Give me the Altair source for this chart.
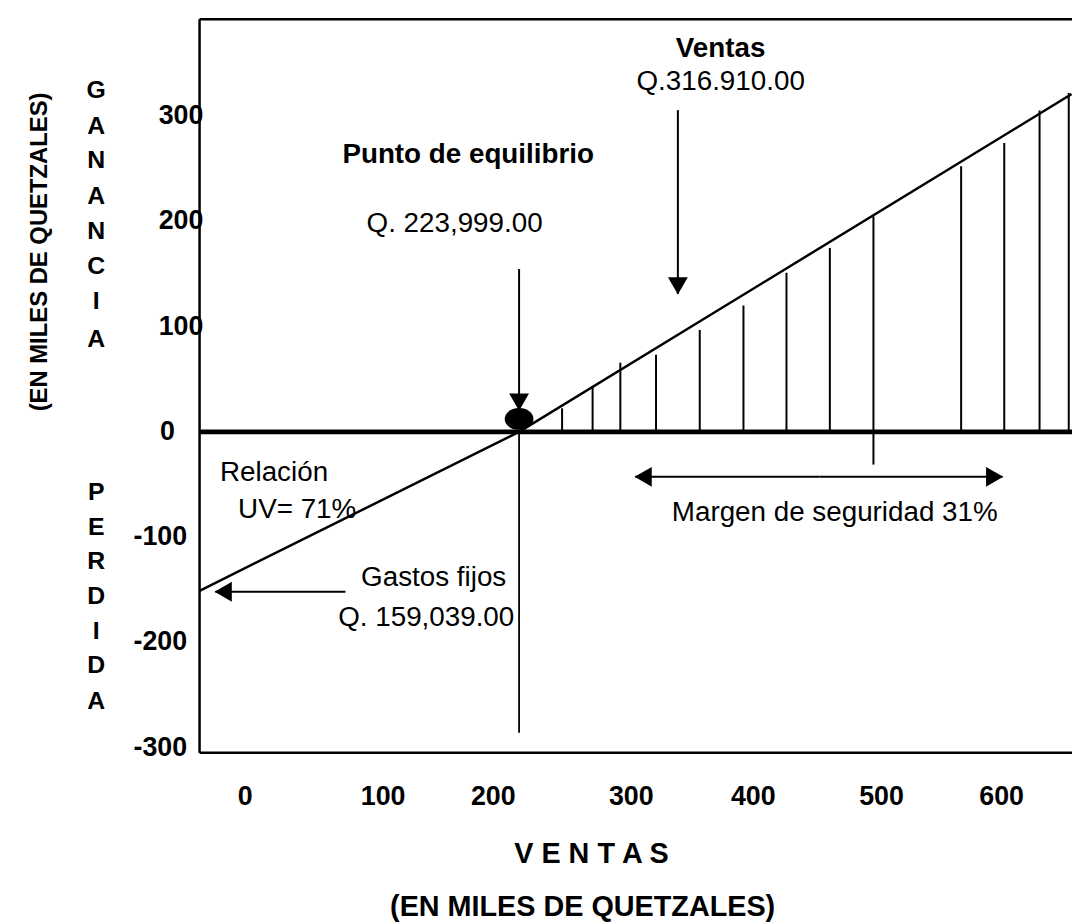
import altair as alt
import pandas as pd

# ---- scales (data units: thousands of quetzales) ----
XMIN, XMAX = -66.0, 660.3
YMIN, YMAX = -305.0, 392.0

# ---- data ----
# sales / profit line (ventas, ganancia)
line_x = [-66, 200, 660]
line_y = [-151, 0, 321]

# hatch lines (x, top, bottom)
hatch_x = [235.8, 261.2, 284.3, 314.0, 350.4, 386.8, 422.6, 458.7, 495.0, 568.0, 603.9, 633.3, 657.6]
hatch_top = [22.4, 43.7, 65.8, 73.3, 96.9, 120.1, 151.2, 174.8, 204.7, 252.5, 274.5, 305.4, 322.0]
hatch_bot = [0, 0, 0, 0, 0, 0, 0, 0, -31.1, 0, 0, 0, 0]

# break-even
be_x = 200
be_bottom = -285.8

# y tick labels
ytick_vals = [300, 200, 100, 0, -100, -200, -300]
ytick_text = ["300", "200", "100", "0", "-100", "-200", "-300"]
ytick_x = [-100, -100, -100, -99, -121, -121, -121]

# x tick labels
xtick_text = ["0", "100", "200", "300", "400", "500", "600"]
xtick_x = [-28.1, 86.8, 178.5, 293.4, 395.0, 501.7, 601.7]
xtick_y = -347

# vertical letters
gan_letters = list("GANANCIA")
gan_y = [325, 291, 258, 224, 191, 158, 124, 88]
per_letters = list("PERDIDA")
per_y = [-57, -90, -123, -156, -189, -222, -256]
letters_x = -152

# annotations: text, x, y, weight, align
ann_text = ["Ventas", "Q.316.910.00", "Punto de equilibrio", "Q. 223,999.00",
            "Relación", "UV= 71%", "Gastos fijos", "Q. 159,039.00",
            "Margen de seguridad 31%"]
ann_x = [367.8, 367.8, 52.9, 146.3, -49.0, -33.9, 189.3, 196.0, 462.8]
ann_y = [363.5, 332.0, 263.0, 197.0, -39.0, -74.0, -139.0, -176.5, -77.4]
ann_weight = ["bold", "normal", "bold", "normal", "normal", "normal", "normal", "normal", "normal"]
ann_align = ["center", "center", "left", "center", "left", "left", "right", "right", "center"]

# arrows: x1, y1, x2, y2 (arrowhead at x2,y2)
arr_x1 = [332.2, 200.0, 55.4, 450.0, 450.0]
arr_y1 = [305.7, 154.7, -151.9, -42.7, -42.7]
arr_x2 = [332.2, 200.0, -52.9, 296.7, 602.5]
arr_y2 = [131.1, 20.8, -151.9, -42.7, -42.7]
arr_shape = ["triangle-down", "triangle-down", "triangle-left", "triangle-left", "triangle-right"]
arr_dx = [0, 0, 8, 8, -8]
arr_dy = [-8, -8, 0, 0, 0]

FONT = "Liberation Sans, Arial, sans-serif"

xs = alt.Scale(domain=[XMIN, XMAX], nice=False, zero=False)
ys = alt.Scale(domain=[YMIN, YMAX], nice=False, zero=False)
X = lambda f: alt.X(f, type="quantitative", scale=xs, axis=None)
Y = lambda f: alt.Y(f, type="quantitative", scale=ys, axis=None)

# frame (left, top, bottom)
frame = alt.Chart(pd.DataFrame({"k": [0]})).mark_rule(color="black", strokeWidth=2.5)
frame_left = frame.encode(x=alt.value(0), y=alt.value(0), y2=alt.value(739))
frame_top = frame.encode(x=alt.value(0), x2=alt.value(900), y=alt.value(0))
frame_bot = frame.encode(x=alt.value(0), x2=alt.value(900), y=alt.value(739))

zero_df = pd.DataFrame({"x": [XMIN], "x2": [XMAX + 10], "y": [0]})
zero_line = alt.Chart(zero_df).mark_rule(color="black", strokeWidth=5).encode(
    x=X("x"), x2="x2", y=Y("y"))

line_df = pd.DataFrame({"x": line_x, "y": line_y})
sales = alt.Chart(line_df).mark_line(color="black", strokeWidth=2.5, clip=False).encode(
    x=X("x"), y=Y("y"), order="x:Q")

hatch_df = pd.DataFrame({"x": hatch_x, "top": hatch_top, "bot": hatch_bot})
hatch = alt.Chart(hatch_df).mark_rule(color="black", strokeWidth=2).encode(
    x=X("x"), y=Y("bot"), y2="top")

be_df = pd.DataFrame({"x": [be_x], "y": [0], "y2": [be_bottom]})
be_line = alt.Chart(be_df).mark_rule(color="black", strokeWidth=1.8).encode(
    x=X("x"), y=Y("y"), y2="y2")

dot_df = pd.DataFrame({"x": [be_x], "y": [12.3]})
dot = alt.Chart(dot_df).mark_point(
    shape="M-1,0 A1,0.76 0 1,0 1,0 A1,0.76 0 1,0 -1,0 Z",
    filled=True, color="black", opacity=1, size=841).encode(x=X("x"), y=Y("y"))

arr_df = pd.DataFrame({"x1": arr_x1, "y1": arr_y1, "x2": arr_x2, "y2": arr_y2,
                       "shape": arr_shape, "dx": arr_dx, "dy": arr_dy})
arr_lines = alt.Chart(arr_df).mark_rule(color="black", strokeWidth=2).encode(
    x=X("x1"), y=Y("y1"), x2="x2", y2="y2")
heads = []
for i in range(len(arr_shape)):
    sub = arr_df.iloc[[i]]
    heads.append(alt.Chart(sub).mark_point(shape=arr_shape[i], filled=True, color="black",
                                            opacity=1, size=400).encode(
        x=X("x2"), y=Y("y2"), xOffset=alt.value(arr_dx[i]), yOffset=alt.value(arr_dy[i])))

ann_df = pd.DataFrame({"t": ann_text, "x": ann_x, "y": ann_y, "w": ann_weight, "a": ann_align})
ann_layers = []
for i in range(len(ann_text)):
    sub = ann_df.iloc[[i]]
    ann_layers.append(alt.Chart(sub).mark_text(
        font=FONT, fontSize=28, fontWeight=ann_weight[i], align=ann_align[i],
        baseline="middle", color="black").encode(x=X("x"), y=Y("y"), text="t:N"))

ytick_df = pd.DataFrame({"t": ytick_text, "x": ytick_x, "y": ytick_vals})
yticks = alt.Chart(ytick_df).mark_text(font=FONT, fontSize=27, fontWeight="bold",
                                       align="left", baseline="middle", color="black").encode(
    x=X("x"), y=Y("y"), text="t:N")

xtick_df = pd.DataFrame({"t": xtick_text, "x": xtick_x, "y": [xtick_y] * len(xtick_text)})
xticks = alt.Chart(xtick_df).mark_text(font=FONT, fontSize=27, fontWeight="bold",
                                       align="center", baseline="middle", color="black").encode(
    x=X("x"), y=Y("y"), text="t:N")

let_df = pd.DataFrame({"t": gan_letters + per_letters,
                       "y": gan_y + per_y,
                       "x": [letters_x] * (len(gan_letters) + len(per_letters))})
letters = alt.Chart(let_df).mark_text(font=FONT, fontSize=25, fontWeight="bold",
                                      align="center", baseline="middle", color="black").encode(
    x=X("x"), y=Y("y"), text="t:N")

tit_df = pd.DataFrame({"t": ["V E N T A S", "(EN MILES DE QUETZALES)"],
                       "x": [260.3, 252.9], "y": [-401, -452]})
xtitle = alt.Chart(tit_df).mark_text(font=FONT, fontSize=29, fontWeight="bold",
                                     align="center", baseline="middle", color="black").encode(
    x=X("x"), y=Y("y"), text="t:N")

ytit_df = pd.DataFrame({"t": ["(EN MILES DE QUETZALES)"], "x": [-199], "y": [171]})
ytitle = alt.Chart(ytit_df).mark_text(font=FONT, fontSize=24, fontWeight="bold", angle=270,
                                      align="center", baseline="middle", color="black").encode(
    x=X("x"), y=Y("y"), text="t:N")

chart = alt.layer(
    frame_left, frame_top, frame_bot, hatch, be_line, zero_line, sales, dot, arr_lines,
    *heads, *ann_layers, yticks, xticks, letters, xtitle, ytitle
).properties(
    width=879, height=739,
    padding={"left": 193, "top": 8, "right": 0, "bottom": 167},
    autosize=alt.AutoSizeParams(type="none"),
).configure_view(strokeWidth=0).configure(background="white")

chart.save("out.html", embed_options={"renderer": "svg", "actions": False})
